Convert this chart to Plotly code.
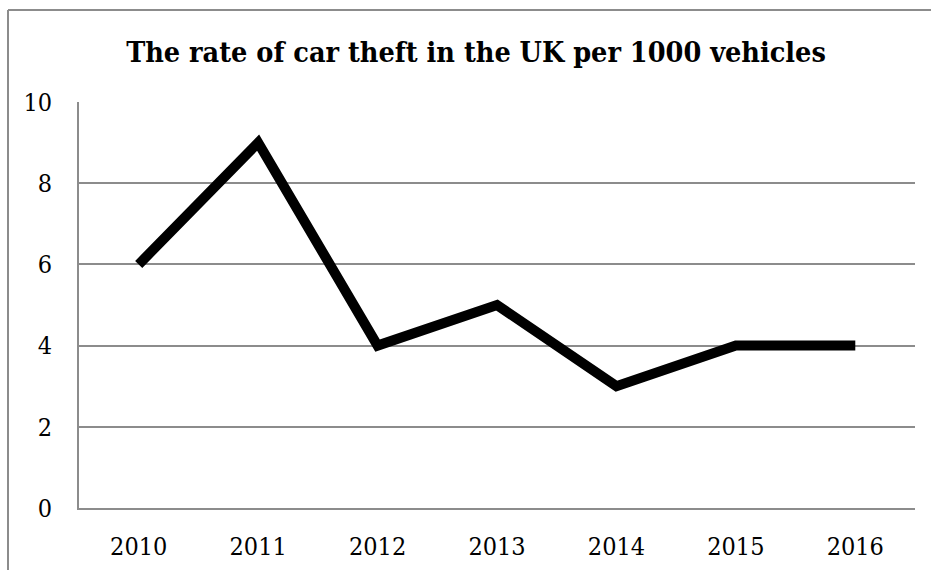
import plotly.graph_objects as go

years = ["2010", "2011", "2012", "2013", "2014", "2015", "2016"]
rates = [6, 9, 4, 5, 3, 4, 4]
y_ticks = [0, 2, 4, 6, 8, 10]

W, H = 931, 570
L, R, T, B = 79, 16, 102, 62
pw, ph = W - L - R, H - T - B

fig = go.Figure()
fig.add_trace(go.Scatter(x=years, y=rates, mode="lines",
                         line=dict(color="black", width=10),
                         hoverinfo="x+y"))

grid = "#8c8c8c"
font = "DejaVu Serif Condensed, DejaVu Serif"
top_y = 1 + (T - 10) / ph
left_x = (8 - L) / pw
fig.update_layout(
    width=W, height=H,
    margin=dict(l=L, r=R, t=T, b=B, autoexpand=False),
    paper_bgcolor="white", plot_bgcolor="white",
    showlegend=False,
    title=dict(text="<b>The rate of car theft in the UK per 1000 vehicles</b>",
               x=476 / W, xref="container", xanchor="center",
               y=1 - 52 / H, yref="container", yanchor="middle",
               font=dict(family=font, size=28.5, color="black")),
    font=dict(family=font, size=25, color="black"),
    xaxis=dict(type="category", range=[-0.5, 6.5], showgrid=False,
               showline=True, linecolor=grid, linewidth=2,
               ticks="", ticklabelstandoff=15, automargin=False,
               tickfont=dict(family=font, size=25, color="black")),
    yaxis=dict(range=[0, 10], tickvals=y_ticks, showgrid=True,
               gridcolor=grid, gridwidth=2, zeroline=False,
               showline=True, linecolor=grid, linewidth=2,
               ticks="", ticklabelstandoff=20, automargin=False,
               tickfont=dict(family=font, size=25, color="black")),
    shapes=[
        dict(type="line", xref="paper", yref="paper",
             x0=left_x, x1=1 + R / pw, y0=top_y, y1=top_y,
             line=dict(color=grid, width=2), layer="below"),
        dict(type="line", xref="paper", yref="paper",
             x0=left_x, x1=left_x, y0=-B / ph, y1=top_y,
             line=dict(color=grid, width=2), layer="below"),
    ],
)

fig.write_html("out.html")
